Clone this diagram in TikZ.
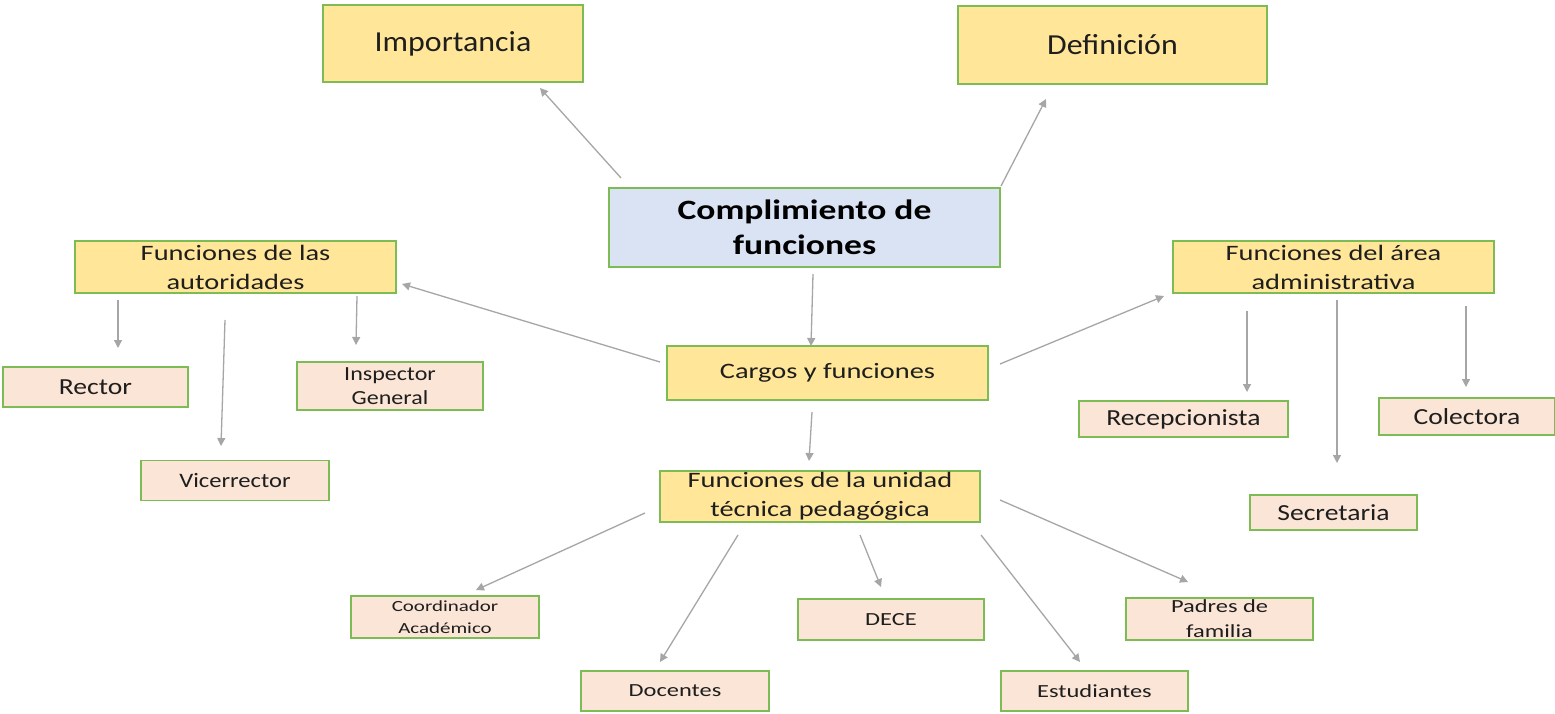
\documentclass[tikz,border=0pt]{standalone}
\usepackage{fontspec}
\setmainfont{Carlito}
\usetikzlibrary{arrows.meta}
\definecolor{yel}{HTML}{FFE699}
\definecolor{pnk}{HTML}{FBE5D6}
\definecolor{blu}{HTML}{DAE3F3}
\definecolor{grn}{HTML}{7DBB55}
\definecolor{arr}{HTML}{A6A6A6}
\definecolor{txt}{HTML}{1E1E1E}
\newcommand\fs[3]{\fontsize{#1}{#2}\selectfont\addfontfeature{FakeStretch=#3}}
\tikzset{
  box/.style={draw=grn, line width=1.6pt, inner sep=0pt, align=center, text=txt},
  yb/.style={box, fill=yel},
  pb/.style={box, fill=pnk},
  bb/.style={box, fill=blu},
  con/.style={draw=arr, line width=1.3pt, -{Triangle[length=8pt,width=8pt]}},
  ftop/.style={font=\fs{29}{34}{1.1}},
  fmid/.style={font=\fs{22}{29}{1.29}},
  fpk/.style={font=\fs{23}{28}{1.2}},
  fins/.style={font=\fs{20}{24}{1.2}},
  fbot/.style={font=\fs{18.5}{25}{1.32}},
  fcoo/.style={font=\fs{15.5}{22}{1.35}}
}
\begin{document}
\begin{tikzpicture}[x=1pt,y=-1pt]
\useasboundingbox[fill=white] (0,0) rectangle (1555,714);
% top level
\node[yb, ftop, minimum width=260pt, minimum height=77pt] (imp) at (453,43.5) {Importancia};
\node[yb, ftop, minimum width=309pt, minimum height=78pt] (def) at (1112.5,45) {Definición};
\node[bb, font=\fs{28}{35}{1.27}\bfseries, text=black, minimum width=391pt, minimum height=79pt] (cmp) at (804.5,227.5) {Complimiento de\\funciones};
% mid level
\node[yb, fmid, minimum width=321pt, minimum height=52pt] (aut) at (235.5,267) {Funciones de las\\autoridades};
\node[yb, fmid, minimum width=321pt, minimum height=54pt] (car) at (827.5,373) {Cargos y funciones};
\node[yb, fmid, minimum width=321pt, minimum height=52pt] (adm) at (1333.5,267) {Funciones del área\\administrativa};
\node[yb, fmid, minimum width=320pt, minimum height=51pt] (uni) at (820,496.5) {Funciones de la unidad\\técnica pedagógica};
% left leaves
\node[pb, fpk, minimum width=185pt, minimum height=40pt] (rec) at (95.5,387) {Rector};
\node[pb, fins, minimum width=186pt, minimum height=48pt] (ins) at (390,386) {Inspector\\General};
\node[pb, font=\fs{20.5}{25}{1.2}, minimum width=188pt, minimum height=40pt] (vic) at (235,480.5) {Vicerrector};
% right leaves
\node[pb, fpk, minimum width=209pt, minimum height=36pt] (rcp) at (1183.5,419) {Recepcionista};
\node[pb, fpk, minimum width=176pt, minimum height=37pt] (col) at (1467,416.5) {Colectora};
\node[pb, fpk, minimum width=167pt, minimum height=35pt] (sec) at (1333.5,512.5) {Secretaria};
% bottom leaves
\node[pb, fcoo, minimum width=188pt, minimum height=42pt] (coo) at (445,617) {Coordinador\\Académico};
\node[pb, fbot, minimum width=188pt, minimum height=40pt] (doc) at (675,691) {Docentes};
\node[pb, fbot, minimum width=186pt, minimum height=41pt] (dec) at (891,619.5) {DECE};
\node[pb, fbot, minimum width=187pt, minimum height=40pt] (est) at (1094.5,691) {Estudiantes};
\node[pb, fbot, minimum width=187pt, minimum height=42pt] (pad) at (1219.5,619) {Padres de\\familia};
% connector end points
\coordinate (c1a) at (621,178); \coordinate (c1b) at (540,88);
\coordinate (c2a) at (1001,186); \coordinate (c2b) at (1046,99);
\coordinate (c3a) at (813,274); \coordinate (c3b) at (811,346);
\coordinate (c4a) at (660,362); \coordinate (c4b) at (402,284);
\coordinate (c5a) at (1000,364); \coordinate (c5b) at (1164,296);
\coordinate (c6a) at (812,412); \coordinate (c6b) at (809,461);
\coordinate (c7a) at (118,300); \coordinate (c7b) at (118,348);
\coordinate (c8a) at (225,320); \coordinate (c8b) at (221,446);
\coordinate (c9a) at (357,296); \coordinate (c9b) at (356,345);
\coordinate (d1a) at (1247,311); \coordinate (d1b) at (1247,392);
\coordinate (d2a) at (1337,300); \coordinate (d2b) at (1337,463);
\coordinate (d3a) at (1466,306); \coordinate (d3b) at (1466,387);
\coordinate (e1a) at (645,513); \coordinate (e1b) at (476,590);
\coordinate (e2a) at (738,535); \coordinate (e2b) at (660,662);
\coordinate (e3a) at (860,535); \coordinate (e3b) at (881,587);
\coordinate (e4a) at (981,535); \coordinate (e4b) at (1080,662);
\coordinate (e5a) at (1000,500); \coordinate (e5b) at (1188,582);
\foreach \s/\t in {c1a/c1b,c2a/c2b,c3a/c3b,c4a/c4b,c5a/c5b,c6a/c6b,c7a/c7b,c8a/c8b,c9a/c9b,d1a/d1b,d2a/d2b,d3a/d3b,e1a/e1b,e2a/e2b,e3a/e3b,e4a/e4b,e5a/e5b}
  \draw[con] (\s) -- (\t);
\end{tikzpicture}
\end{document}
